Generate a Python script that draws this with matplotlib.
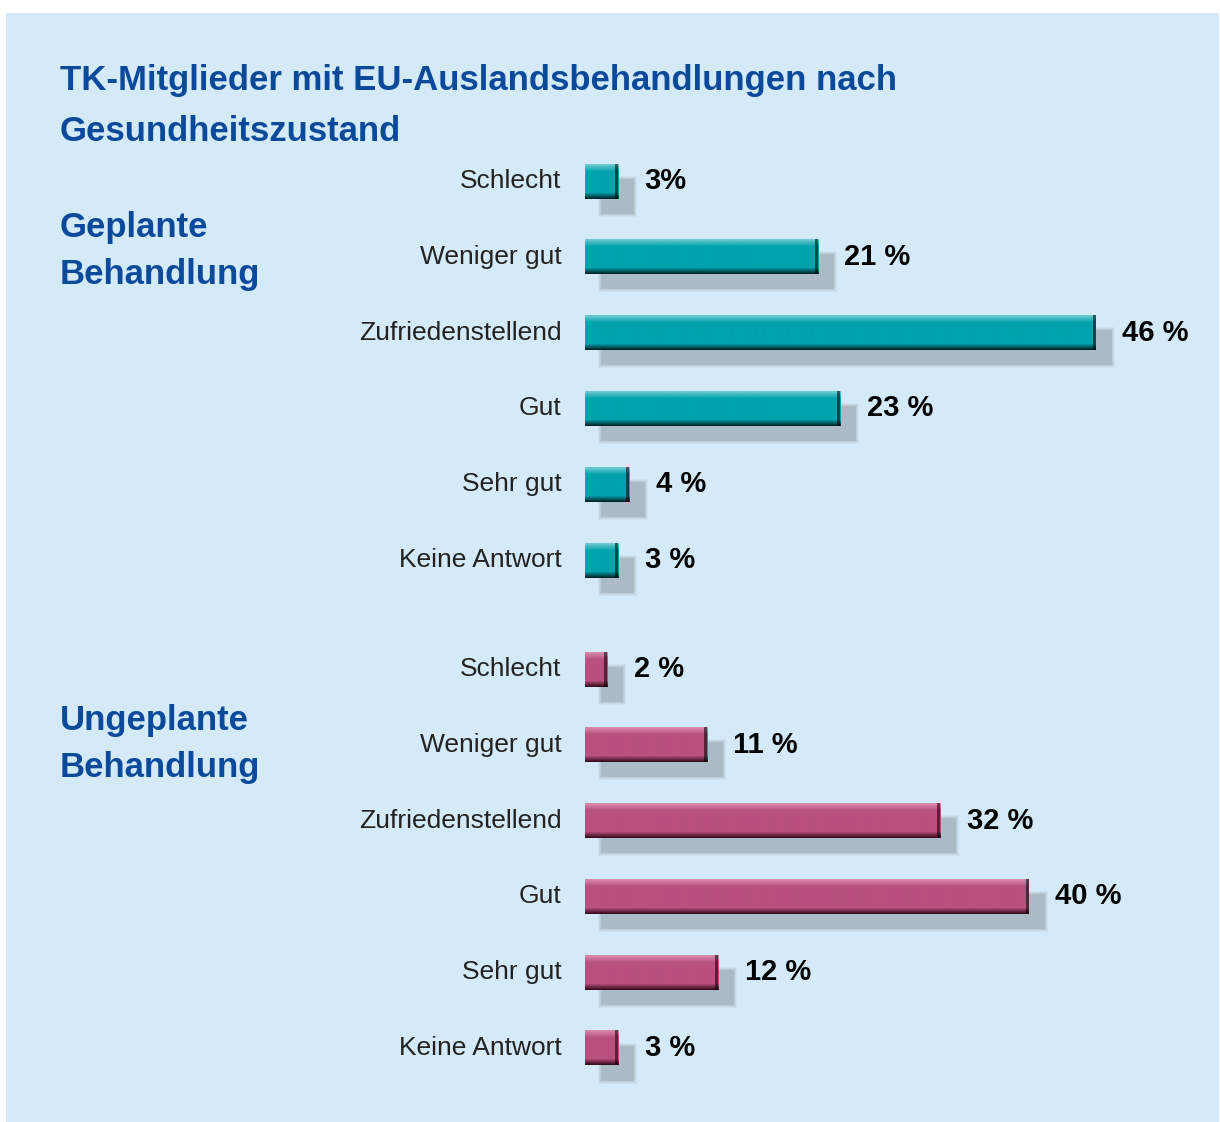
import numpy as np
import matplotlib
matplotlib.use("Agg")
import matplotlib.pyplot as plt
from matplotlib.patches import Rectangle
from matplotlib.colors import to_rgb

# ---------------- data ----------------
categories = ["Schlecht", "Weniger gut", "Zufriedenstellend", "Gut", "Sehr gut", "Keine Antwort"]
geplant_values = [3, 21, 46, 23, 4, 3]
ungeplant_values = [2, 11, 32, 40, 12, 3]
geplant_labels = ["3%", "21 %", "46 %", "23 %", "4 %", "3 %"]
ungeplant_labels = ["2 %", "11 %", "32 %", "40 %", "12 %", "3 %"]
title_lines = ["TK-Mitglieder mit EU-Auslandsbehandlungen nach", "Gesundheitszustand"]
group_names = [["Geplante", "Behandlung"], ["Ungeplante", "Behandlung"]]

# ---------------- style ----------------
W, H = 1220, 1122
DPI = 100
bg_panel = "#d5eaf8"
title_blue = "#0b4a9b"
shadow_col = "#aabbc6"
teal = dict(base="#00a2ad", light="#6fcbd1", dark="#00272a")
pink = dict(base="#b9507e", light="#d98aab", dark="#3a0c20")

px_per_pct = 11.1
bar_h = 35
x0_px = 585
group_first_y = [181, 669]
row_step = 75.8

fig = plt.figure(figsize=(W / DPI, H / DPI), dpi=DPI, facecolor="white")
# background panel
fig.patches.append(Rectangle((6 / W, 0), (1219 - 6) / W, (H - 13) / H,
                             transform=fig.transFigure, facecolor=bg_panel,
                             edgecolor="none", zorder=-10))

ax = fig.add_axes([x0_px / W, 0, (W - x0_px) / W, 1])
ax.set_zorder(1)
ax.axis("off")
ax.patch.set_alpha(0)

px = 1.0 / px_per_pct  # one pixel in x data units


def gradient_profile(c):
    base = np.array(to_rgb(c["base"]))
    light = np.array(to_rgb(c["light"]))
    dark = np.array(to_rgb(c["dark"]))
    rows = []
    for r in range(bar_h):
        if r < 7:
            t = r / 7.0
            col = light * (1 - t) + base * t
        elif r >= bar_h - 6:
            t = (r - (bar_h - 6) + 1) / 6.0
            col = base * (1 - t) + dark * t
        else:
            col = base
        rows.append(col)
    return np.array(rows)[:, None, :]


def draw_group(values, labels, y_first, colors):
    prof = gradient_profile(colors)
    edge_prof = prof * 0.45
    for i, (cat, v, lab) in enumerate(zip(categories, values, labels)):
        yc = y_first + i * row_step
        top = yc - bar_h / 2
        # blurred shadow
        for k, a in [(3, 0.18), (2, 0.25), (1, 0.35), (0, 1.0)]:
            ax.barh(yc + 15, v + 2 * k * px, left=16 * px - k * px,
                    height=bar_h + 2 * k, color=shadow_col, alpha=a,
                    linewidth=0, zorder=1)
        # main bar with vertical gradient
        ax.imshow(prof, extent=(0, v, top + bar_h, top), aspect="auto",
                  interpolation="bilinear", zorder=3)
        # darker right edge
        ax.imshow(edge_prof, extent=(v - 3 * px, v, top + bar_h, top), aspect="auto",
                  interpolation="bilinear", zorder=4)
        # category label
        ax.annotate(cat, xy=(0, yc), xytext=(-17, 0), textcoords="offset points",
                    ha="right", va="center", fontsize=19, family="Liberation Sans",
                    color="#222222", zorder=5, annotation_clip=False)
        # value label
        ax.annotate(lab, xy=(v, yc), xytext=(19, 0), textcoords="offset points",
                    ha="left", va="center", fontsize=21, fontweight="bold",
                    family="Liberation Sans", color="black", zorder=5,
                    annotation_clip=False)


draw_group(geplant_values, geplant_labels, group_first_y[0], teal)
draw_group(ungeplant_values, ungeplant_labels, group_first_y[1], pink)
ax.set_xlim(0, (W - x0_px) / px_per_pct)
ax.set_ylim(H, 0)

# titles
title_baselines = [90, 141]
for line, yb in zip(title_lines, title_baselines):
    fig.text(60 / W, 1 - yb / H, line, ha="left", va="baseline", fontsize=25,
             fontweight="bold", family="Liberation Sans", color=title_blue)

group_baselines = [[237, 284], [730, 777]]
for names, ybs in zip(group_names, group_baselines):
    for name, yb in zip(names, ybs):
        fig.text(60 / W, 1 - yb / H, name, ha="left", va="baseline", fontsize=25,
                 fontweight="bold", family="Liberation Sans", color=title_blue)

fig.savefig("out.png", dpi=DPI, facecolor="white")
